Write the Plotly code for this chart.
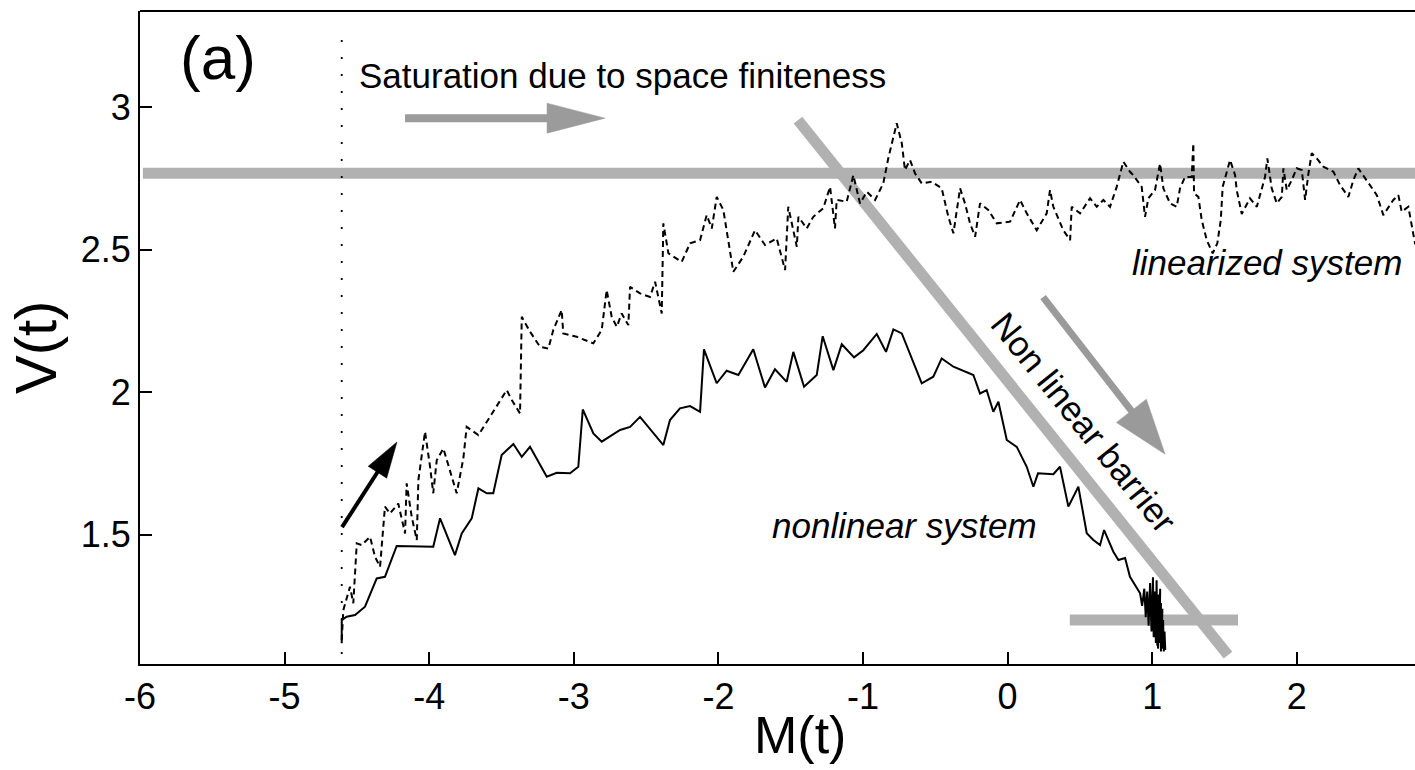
import math
import plotly.graph_objects as go

# ---------------- data ----------------
lin_M = [-4.605, -4.594, -4.548, -4.525, -4.501, -4.467, -4.409, -4.375, -4.340, -4.306,
         -4.271, -4.214, -4.167, -4.156, -4.121, -4.086, -4.075, -4.029, -3.994, -3.972,
         -3.948, -3.902, -3.810, -3.764, -3.741, -3.660, -3.580, -3.464, -3.429, -3.372,
         -3.360, -3.303, -3.234, -3.176, -3.142, -3.084, -3.073, -2.980, -2.865, -2.807,
         -2.773, -2.738, -2.703, -2.669, -2.623, -2.611, -2.542, -2.473, -2.438, -2.392,
         -2.381, -2.346, -2.254, -2.196, -2.127, -2.081, -2.046, -2.012, -1.966, -1.897,
         -1.828, -1.747, -1.678, -1.597, -1.539, -1.517, -1.458, -1.447, -1.389, -1.344,
         -1.275, -1.228, -1.194, -1.182, -1.113, -1.067, -1.021, -0.974, -0.917, -0.860,
         -0.825, -0.767, -0.732, -0.710, -0.675, -0.640, -0.594, -0.525, -0.456, -0.410,
         -0.375, -0.329, -0.295, -0.260, -0.225, -0.191, -0.134, -0.075, 0.017, 0.086,
         0.132, 0.201, 0.270, 0.293, 0.316, 0.385, 0.432, 0.443, 0.501, 0.570,
         0.616, 0.662, 0.708, 0.754, 0.800, 0.846, 0.869, 0.927, 0.950, 0.973,
         1.019, 1.054, 1.077, 1.123, 1.169, 1.192, 1.227, 1.273, 1.284, 1.289,
         1.319, 1.342, 1.377, 1.418, 1.450, 1.474, 1.487, 1.515, 1.538, 1.573,
         1.584, 1.619, 1.676, 1.723, 1.757, 1.780, 1.796, 1.826, 1.861, 1.896,
         1.907, 1.930, 1.965, 1.999, 2.034, 2.057, 2.080, 2.103, 2.138, 2.183,
         2.253, 2.299, 2.356, 2.391, 2.425, 2.472, 2.553, 2.598, 2.667, 2.702,
         2.725, 2.771, 2.817, 2.85]
lin_V = [1.130, 1.235, 1.317, 1.259, 1.469, 1.463, 1.492, 1.422, 1.387, 1.598,
         1.574, 1.609, 1.504, 1.680, 1.562, 1.481, 1.691, 1.861, 1.738, 1.645,
         1.761, 1.802, 1.645, 1.767, 1.878, 1.849, 1.913, 2.007, 1.972, 1.925,
         2.264, 2.212, 2.159, 2.153, 2.218, 2.288, 2.206, 2.194, 2.171, 2.218,
         2.358, 2.264, 2.229, 2.276, 2.235, 2.369, 2.346, 2.334, 2.387, 2.276,
         2.592, 2.487, 2.457, 2.522, 2.533, 2.621, 2.574, 2.685, 2.639, 2.422,
         2.475, 2.568, 2.516, 2.539, 2.428, 2.650, 2.510, 2.615, 2.574, 2.615,
         2.645, 2.720, 2.574, 2.674, 2.668, 2.761, 2.662, 2.703, 2.674, 2.732,
         2.821, 2.943, 2.873, 2.779, 2.814, 2.767, 2.732, 2.738, 2.715, 2.615,
         2.557, 2.715, 2.662, 2.592, 2.545, 2.662, 2.639, 2.592, 2.598, 2.674,
         2.627, 2.568, 2.627, 2.709, 2.650, 2.568, 2.533, 2.650, 2.627, 2.680,
         2.650, 2.674, 2.650, 2.720, 2.808, 2.773, 2.761, 2.720, 2.615, 2.680,
         2.709, 2.802, 2.715, 2.662, 2.650, 2.715, 2.755, 2.755, 2.873, 2.697,
         2.685, 2.604, 2.533, 2.487, 2.522, 2.604, 2.720, 2.767, 2.814, 2.761,
         2.709, 2.625, 2.680, 2.650, 2.709, 2.755, 2.820, 2.715, 2.662, 2.685,
         2.785, 2.709, 2.744, 2.785, 2.779, 2.674, 2.767, 2.838, 2.820, 2.791,
         2.773, 2.726, 2.685, 2.744, 2.785, 2.750, 2.691, 2.621, 2.674, 2.691,
         2.633, 2.650, 2.522, 2.50]

nl_M = [-4.605, -4.605, -4.571, -4.513, -4.444, -4.363, -4.306, -4.225, -3.972, -3.925,
        -3.822, -3.775, -3.706, -3.660, -3.602, -3.557, -3.499, -3.418, -3.360, -3.303,
        -3.187, -3.118, -3.026, -2.969, -2.938, -2.865, -2.807, -2.680, -2.611, -2.542,
        -2.381, -2.335, -2.266, -2.196, -2.127, -2.100, -2.012, -1.943, -1.862, -1.759,
        -1.678, -1.609, -1.528, -1.482, -1.408, -1.320, -1.279, -1.205, -1.147, -1.062,
        -0.998, -0.905, -0.841, -0.790, -0.732, -0.594, -0.514, -0.456, -0.375, -0.237,
        -0.191, -0.145, -0.099, -0.064, -0.006, 0.063, 0.132, 0.178, 0.210, 0.316,
        0.362, 0.420, 0.489, 0.547, 0.593, 0.639, 0.667, 0.731, 0.766, 0.812,
        0.846, 0.916,
        0.930, 0.945, 0.955, 0.965, 0.975, 0.985, 0.995, 1.005, 1.010, 1.020,
        1.025, 1.030, 1.035, 1.045, 1.040, 1.055, 1.050, 1.060, 1.060, 1.070,
        1.065, 1.075, 1.080, 1.085, 1.090]
nl_V = [1.119, 1.200, 1.212, 1.218, 1.247, 1.346, 1.352, 1.460, 1.457, 1.557,
        1.428, 1.504, 1.557, 1.662, 1.645, 1.645, 1.779, 1.818, 1.773, 1.808,
        1.703, 1.717, 1.715, 1.738, 1.939, 1.855, 1.826, 1.867, 1.878, 1.913,
        1.814, 1.902, 1.943, 1.951, 1.931, 2.150, 2.031, 2.075, 2.060, 2.150,
        2.016, 2.080, 2.036, 2.141, 2.019, 2.060, 2.196, 2.077, 2.168, 2.122,
        2.147, 2.204, 2.141, 2.220, 2.206, 2.031, 2.054, 2.118, 2.089, 2.060,
        1.995, 2.007, 1.931, 1.966, 1.832, 1.808, 1.738, 1.668, 1.715, 1.712,
        1.738, 1.598, 1.668, 1.505, 1.481, 1.463, 1.516, 1.440, 1.411, 1.418,
        1.352, 1.294,
        1.250, 1.310, 1.210, 1.300, 1.180, 1.330, 1.160, 1.350, 1.140, 1.300,
        1.120, 1.340, 1.110, 1.290, 1.100, 1.310, 1.120, 1.260, 1.090, 1.240,
        1.100, 1.200, 1.090, 1.160, 1.095]

# guide elements (data coordinates)
start_M = -4.605                     # dotted vertical line
dotted_V = [3.235, 1.0]
saturation_V = 2.768                 # horizontal gray band
saturation_M = [-5.98, 3.0]
barrier_M = [-1.45, 1.524]           # diagonal "non linear barrier"
barrier_V = [2.954, 1.077]
floor_M = [0.43, 1.593]              # short horizontal gray segment
floor_V = [1.20, 1.20]

x_tickvals = [-6, -5, -4, -3, -2, -1, 0, 1, 2]
x_ticktext = ["-6", "-5", "-4", "-3", "-2", "-1", "0", "1", "2"]
y_tickvals = [1.5, 2, 2.5, 3]
y_ticktext = ["1.5", "2", "2.5", "3"]

X0, X1 = -6.0, 2.817
Y0, Y1 = 1.046, 3.337

W, H = 1415, 770
ML, MR, MT, MB = 140, 0, 11, 106
PW, PH = W - ML - MR, H - MT - MB
SX = PW / (X1 - X0)
SY = PH / (Y1 - Y0)

FONT = "Liberation Sans, Arial, Helvetica, sans-serif"
GRAY = "#b1b1b1"

fig = go.Figure()

def line(xs, ys, color, width, dash="solid"):
    fig.add_trace(go.Scatter(x=xs, y=ys, mode="lines",
                             line=dict(color=color, width=width, dash=dash),
                             hoverinfo="skip", showlegend=False))

def arrow(x0, y0, x1, y1, head_len, head_w, shaft_w, color):
    # geometry in pixel space, converted back to data units
    p0 = ((x0 - X0) * SX, (y0 - Y0) * SY)
    p1 = ((x1 - X0) * SX, (y1 - Y0) * SY)
    dx, dy = p1[0] - p0[0], p1[1] - p0[1]
    L = math.hypot(dx, dy)
    ux, uy = dx / L, dy / L
    nx, ny = -uy, ux
    bx, by = p1[0] - ux * head_len, p1[1] - uy * head_len
    sx_, sy_ = bx + ux * 2, by + uy * 2
    to_d = lambda px, py: (px / SX + X0, py / SY + Y0)
    a = to_d(*p0); b = to_d(sx_, sy_)
    fig.add_trace(go.Scatter(x=[a[0], b[0]], y=[a[1], b[1]], mode="lines",
                             line=dict(color=color, width=shaft_w),
                             hoverinfo="skip", showlegend=False))
    c1 = to_d(bx + nx * head_w / 2, by + ny * head_w / 2)
    c2 = to_d(*p1)
    c3 = to_d(bx - nx * head_w / 2, by - ny * head_w / 2)
    fig.add_trace(go.Scatter(x=[c1[0], c2[0], c3[0], c1[0]], y=[c1[1], c2[1], c3[1], c1[1]],
                             mode="lines", fill="toself", fillcolor=color,
                             line=dict(color=color, width=0.5),
                             hoverinfo="skip", showlegend=False))

# gray guides
line(saturation_M, [saturation_V, saturation_V], GRAY, 11)
line(barrier_M, barrier_V, GRAY, 11)
line(floor_M, floor_V, GRAY, 11)
line([start_M, start_M], dotted_V, "black", 1.8, dash="2px,15px")

# arrows
arrow(-4.167, 2.961, -2.784, 2.961, 58, 30, 8, "#9b9b9b")
arrow(0.245, 2.333, 1.089, 1.782, 55, 38, 7, "#9a9a9a")
arrow(-4.603, 1.526, -4.223, 1.825, 36, 22, 4, "black")

# data curves
line(lin_M, lin_V, "black", 2.0, dash="6px,4px")
line(nl_M, nl_V, "black", 2.0)

ann = []
def text(x, y, s, size, xanchor="center", italic=False, angle=0, xref="x", yref="y"):
    ann.append(dict(x=x, y=y, xref=xref, yref=yref, text=s, showarrow=False,
                    xanchor=xanchor, yanchor="middle", textangle=angle,
                    font=dict(family=FONT, size=size, color="black",
                              style="italic" if italic else "normal")))

text(-5.46, 3.175, "(a)", 62)
text(-4.499, 3.112, "Saturation due to space finiteness", 35, xanchor="left")
text(0.846, 2.456, "linearized system", 35, xanchor="left", italic=True)
text(-1.643, 1.533, "nonlinear system", 35, xanchor="left", italic=True)
text(0.53, 1.895, "Non linear barrier", 35, angle=51)
text((800 - ML) / PW, (H - MB - 735) / PH, "M(t)", 52, xref="paper", yref="paper")
text((35 - ML) / PW, (H - MB - 348) / PH, "V(t)", 58, angle=-90, xref="paper", yref="paper")

fig.update_layout(
    width=W, height=H,
    margin=dict(l=ML, r=MR, t=MT, b=MB, pad=0),
    paper_bgcolor="white", plot_bgcolor="white",
    annotations=ann,
    shapes=[dict(type="line", xref="paper", yref="paper", x0=0, x1=1, y0=1, y1=1,
                 line=dict(color="black", width=2))],
    xaxis=dict(range=[X0, X1], showgrid=False, zeroline=False,
               showline=True, linecolor="black", linewidth=2,
               ticks="inside", ticklen=12, tickwidth=1.5, tickcolor="black",
               tickvals=x_tickvals, ticktext=x_ticktext,
               tickfont=dict(family=FONT, size=36, color="black")),
    yaxis=dict(range=[Y0, Y1], showgrid=False, zeroline=False,
               showline=True, linecolor="black", linewidth=2,
               ticks="inside", ticklen=12, tickwidth=1.5, tickcolor="black",
               tickvals=y_tickvals, ticktext=y_ticktext,
               tickfont=dict(family=FONT, size=36, color="black")),
)

fig.write_html("out.html")
